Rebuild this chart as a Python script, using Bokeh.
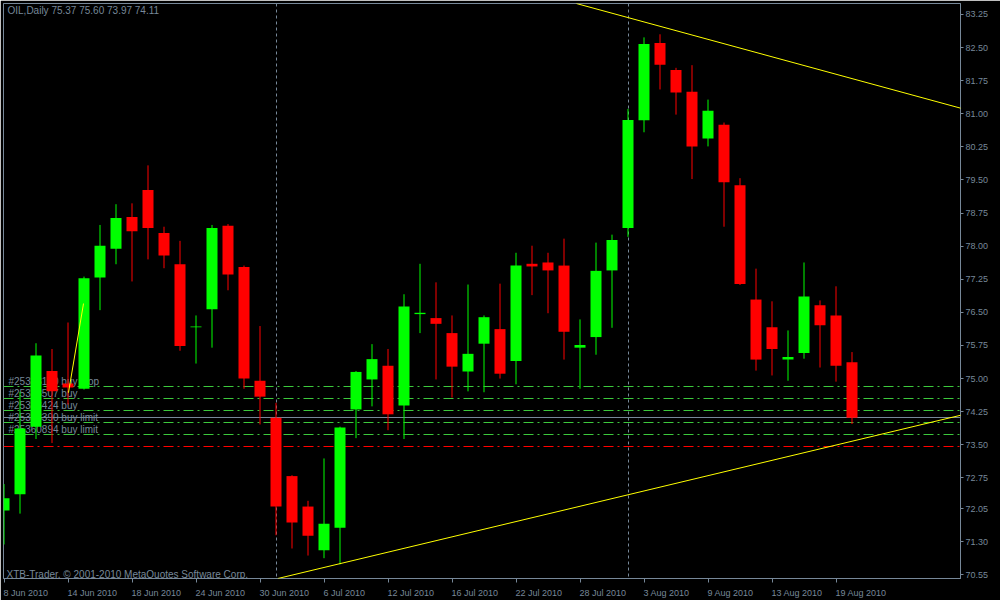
import datetime as dt
from bokeh.plotting import figure
from bokeh.models import (ColumnDataSource, Range1d, FixedTicker, NumeralTickFormatter,
                          Label, LabelSet, Slope)
from bokeh.embed import file_html
from bokeh.resources import INLINE
from bokeh.core.properties import value

# ---------------- data ----------------
dates = ["2010-06-08", "2010-06-09", "2010-06-10", "2010-06-11", "2010-06-14", "2010-06-15",
         "2010-06-16", "2010-06-17", "2010-06-18", "2010-06-21", "2010-06-22", "2010-06-23",
         "2010-06-24", "2010-06-25", "2010-06-28", "2010-06-29", "2010-06-30",
         "2010-07-01", "2010-07-02", "2010-07-05", "2010-07-06", "2010-07-07", "2010-07-08",
         "2010-07-09", "2010-07-12", "2010-07-13", "2010-07-14", "2010-07-15", "2010-07-16",
         "2010-07-19", "2010-07-20", "2010-07-21", "2010-07-22", "2010-07-23", "2010-07-26",
         "2010-07-27", "2010-07-28", "2010-07-29", "2010-07-30",
         "2010-08-02", "2010-08-03", "2010-08-04", "2010-08-05", "2010-08-06", "2010-08-09",
         "2010-08-10", "2010-08-11", "2010-08-12", "2010-08-13", "2010-08-16", "2010-08-17",
         "2010-08-18", "2010-08-19", "2010-08-20"]
opens = [72.01, 72.38, 73.91, 75.17, 74.89, 74.77, 77.29, 77.94, 78.66, 79.27, 78.30, 77.59,
         76.16, 76.57, 78.46, 77.53, 74.95, 74.11, 72.79, 72.10, 71.11, 71.62, 74.30, 74.98,
         75.29, 74.39, 76.46, 76.37, 76.03, 75.16, 75.79, 76.12, 75.40, 77.60, 77.63, 77.56,
         75.70, 75.94, 77.45, 78.41, 80.85, 82.60, 81.99, 81.50, 80.44, 80.75, 79.38, 76.79,
         76.16, 75.43, 75.58, 76.66, 76.43, 75.37]
highs = [72.61, 74.70, 75.80, 75.67, 76.27, 77.31, 78.48, 78.95, 78.97, 79.83, 78.44, 78.12,
         76.43, 78.48, 78.50, 77.56, 76.19, 74.45, 72.81, 72.23, 73.19, 73.91, 75.17, 75.78,
         75.67, 76.91, 77.60, 77.18, 76.43, 77.13, 76.43, 77.15, 77.85, 78.01, 77.85, 78.17,
         76.34, 78.08, 78.26, 81.11, 82.73, 82.80, 82.04, 82.10, 81.32, 80.80, 79.54, 77.49,
         76.75, 76.09, 77.63, 76.77, 77.09, 75.60]
lows = [71.24, 71.94, 73.63, 73.54, 74.41, 74.75, 76.55, 77.59, 77.20, 77.70, 77.50, 75.63,
        75.34, 75.70, 77.00, 74.77, 73.96, 71.45, 71.15, 70.99, 70.93, 70.79, 73.65, 74.37,
        73.83, 73.63, 76.03, 74.98, 74.57, 74.71, 74.69, 75.00, 74.87, 76.89, 76.48, 75.43,
        74.77, 75.54, 76.15, 78.21, 80.58, 81.55, 80.98, 79.52, 80.26, 78.44, 77.12, 75.18,
        75.07, 74.95, 75.45, 75.25, 74.93, 73.97]
closes = [72.29, 73.87, 75.52, 74.71, 74.80, 77.27, 78.01, 78.64, 78.34, 78.41, 77.79, 75.74,
          76.18, 78.41, 77.36, 75.00, 74.59, 72.10, 71.74, 71.44, 71.71, 73.89, 75.15, 75.44,
          74.19, 76.63, 76.49, 76.24, 75.27, 75.56, 76.39, 75.11, 77.56, 77.54, 77.45, 76.06,
          75.76, 77.44, 78.14, 80.86, 82.58, 82.11, 81.48, 80.26, 81.07, 79.45, 77.14, 75.43,
          75.67, 75.49, 76.86, 76.21, 75.29, 74.11]

price_ticks = [83.25, 82.50, 81.75, 81.00, 80.25, 79.50, 78.75, 78.00, 77.25, 76.50, 75.75,
               75.00, 74.25, 73.50, 72.75, 72.05, 71.30, 70.55]
date_tick_labels = ["8 Jun 2010", "14 Jun 2010", "18 Jun 2010", "24 Jun 2010", "30 Jun 2010",
                    "6 Jul 2010", "12 Jul 2010", "16 Jul 2010", "22 Jul 2010", "28 Jul 2010",
                    "3 Aug 2010", "9 Aug 2010", "13 Aug 2010", "19 Aug 2010"]

order_prices = [74.81, 74.54, 74.27, 74.00, 73.73]
order_labels = ["#25338120 buy stop", "#25338507 buy", "#25338424 buy",
                "#25338390 buy limit", "#25360894 buy limit"]
stop_prices = [73.46]

trend_upper_idx = [40, 56]
trend_upper_price = [83.08, 81.50]
trend_lower_idx = [17, 53]
trend_lower_price = [70.46, 73.58]
trend_short_idx = [4.03, 4.97]
trend_short_price = [74.68, 76.70]

symbol = "OIL,Daily"
copyright_text = "XTB-Trader, \u00a9 2001-2010 MetaQuotes Software Corp."

# ---------------- styling / layout ----------------
W, H = 1000, 600
B_LEFT, B_TOP, B_RIGHT, B_BOTTOM = 3, 3, 40, 18
FW, FH = W - B_LEFT - B_RIGHT, H - B_TOP - B_BOTTOM
BAR_PX = 16.0
PRICE_PER_PX = 0.0225
BULL, BEAR = "#00ff00", "#ff0000"
GREY = "#778899"
ORDER_GREEN = "#3cc83c"
FONT = "Liberation Sans"
FS_PX = 9
FS = f"{FS_PX}px"
FS_TXT = "10px"

# Liberation Sans (Arial-metric) advance widths in em, used to left-align the date labels
ADV = {" ": 0.278, "J": 0.5, "A": 0.667, "u": 0.556, "n": 0.556, "l": 0.222, "g": 0.556}


def text_px(s):
    return sum(ADV.get(ch, 0.556) for ch in s) * FS_PX


x_lo = -0.5 / BAR_PX
x_hi = x_lo + FW / BAR_PX
y_hi = price_ticks[0] + 11 * PRICE_PER_PX
y_lo = y_hi - FH * PRICE_PER_PX

idx = list(range(len(dates)))
parsed = [dt.date.fromisoformat(d) for d in dates]
fmt = [f"{d.day} {d.strftime('%b')} {d.year}" for d in parsed]
tick_idx = [fmt.index(lbl) for lbl in date_tick_labels]
month_sep = [i for i in idx[1:] if parsed[i].month != parsed[i - 1].month]
# label anchor = tick + half the label width (labels are drawn centred on their anchor)
label_pos = [i + (text_px(lbl) / 2 - 0.5) / BAR_PX for i, lbl in zip(tick_idx, date_tick_labels)]

colors = [BULL if c >= o else BEAR for o, c in zip(opens, closes)]
tops = [max(o, c) for o, c in zip(opens, closes)]
bots = [min(o, c) for o, c in zip(opens, closes)]
src = ColumnDataSource(dict(x=idx, o=opens, h=highs, l=lows, c=closes,
                            top=tops, bot=bots, color=colors))

p = figure(width=W, height=H, x_range=Range1d(x_lo, x_hi), y_range=Range1d(y_lo, y_hi),
           y_axis_location="right", toolbar_location=None, output_backend="svg",
           background_fill_color="black", border_fill_color="black",
           min_border_left=B_LEFT, min_border_top=B_TOP,
           min_border_right=B_RIGHT, min_border_bottom=B_BOTTOM)
p.xgrid.visible = False
p.ygrid.visible = False
p.outline_line_color = GREY

ya = p.yaxis[0]
ya.ticker = FixedTicker(ticks=price_ticks)
ya.formatter = NumeralTickFormatter(format="0.00")
ya.axis_line_color = GREY
ya.major_tick_line_color = GREY
ya.major_tick_out = 3
ya.major_tick_in = 0
ya.minor_tick_line_color = None
ya.major_label_standoff = 2
ya.major_label_text_font = FONT
ya.major_label_text_font_size = FS
ya.major_label_text_color = GREY

xa = p.xaxis[0]
# major ticks carry the (left-aligned looking) labels, minor ticks draw the tick marks
xa.ticker = FixedTicker(ticks=label_pos, minor_ticks=tick_idx)
xa.major_label_overrides = {pos: lbl for pos, lbl in zip(label_pos, date_tick_labels)}
xa.axis_line_color = GREY
xa.major_tick_line_color = None
xa.major_tick_out = 0
xa.major_tick_in = 0
xa.minor_tick_line_color = GREY
xa.minor_tick_out = 4
xa.minor_tick_in = 0
xa.major_label_standoff = 5
xa.major_label_text_font = FONT
xa.major_label_text_font_size = FS
xa.major_label_text_color = GREY

# order label texts (drawn underneath the candles)
ord_src = ColumnDataSource(dict(y=order_prices, text=order_labels, x=[5] * len(order_prices)))
p.add_layout(LabelSet(x="x", y="y", text="text", source=ord_src, x_units="screen",
                      y_offset=2, text_baseline="alphabetic", text_font=value(FONT),
                      text_font_size=value(FS_TXT), text_color=GREY, level="underlay"))

# month separators
p.vspan(x=month_sep, line_color=GREY, line_dash="3 3", line_width=1)
# order lines
p.hspan(y=order_prices, line_color=ORDER_GREEN, line_dash="10 4 2 4", line_width=1)
p.hspan(y=stop_prices, line_color=BEAR, line_dash="10 4 2 4", line_width=1)
# bid line
p.hspan(y=[closes[-1]], line_color=GREY, line_width=1)

# candles
p.segment(x0="x", y0="l", x1="x", y1="h", color="color", line_width=1, source=src)
p.vbar(x="x", top="top", bottom="bot", width=11 / BAR_PX, fill_color="color",
       line_color=None, source=src)


# trend lines
def slope_of(xs, ys):
    g = (ys[1] - ys[0]) / (xs[1] - xs[0])
    return g, ys[0] - g * xs[0]


for xs, ys in [(trend_upper_idx, trend_upper_price), (trend_lower_idx, trend_lower_price)]:
    g, b = slope_of(xs, ys)
    p.add_layout(Slope(gradient=g, y_intercept=b, line_color="#ffff00", line_width=1))
p.segment(x0=[trend_short_idx[0]], y0=[trend_short_price[0]],
          x1=[trend_short_idx[1]], y1=[trend_short_price[1]], line_color="#ffff00", line_width=1)

# title
title = f"{symbol}  {opens[-1]:.2f} {highs[-1]:.2f} {lows[-1]:.2f} {closes[-1]:.2f}"
p.add_layout(Label(x=4, y=FH - 11, x_units="screen", y_units="screen", text=title,
                   text_font=FONT, text_font_size=FS_TXT, text_color=GREY,
                   text_baseline="alphabetic"))
# copyright
p.add_layout(Label(x=3, y=4.5, x_units="screen", y_units="screen", text=copyright_text,
                   text_font=FONT, text_font_size=FS_TXT, text_color=GREY,
                   text_baseline="alphabetic"))
# bid price box
p.add_layout(Label(x=FW + 4, y=closes[-1], x_units="screen", y_units="data",
                   text=f"{closes[-1]:.2f}", text_font=FONT, text_font_size=FS,
                   text_color="black", text_baseline="middle", text_align="left",
                   background_fill_color=GREY, padding=2))

open("out.html", "w").write(file_html(p, INLINE))
